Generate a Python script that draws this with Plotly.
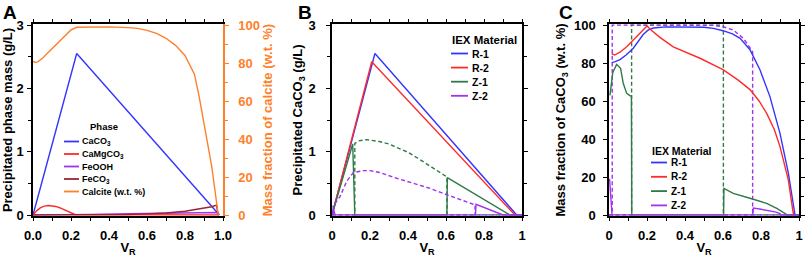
import plotly.graph_objects as go

# ---------------- data ----------------
# Panel A : precipitated phase mass (g/L) and calcite mass fraction (w.t. %)
A_caco3_x = [0, 0.23, 0.975, 0.98]
A_caco3_y = [0, 2.55, 0.02, 0]
A_camg_x = [0, 0.02, 0.04, 0.06, 0.08, 0.10, 0.12, 0.14, 0.16, 0.18, 0.20, 0.22, 0.3, 0.5, 0.7, 0.9, 0.97, 0.98]
A_camg_y = [0, 0.07, 0.115, 0.14, 0.15, 0.148, 0.135, 0.115, 0.088, 0.058, 0.03, 0.008, 0.004, 0.004, 0.005, 0.008, 0.01, 0]
A_feooh_x = [0, 0.2, 0.3, 0.5, 0.7, 0.9, 0.97, 0.98]
A_feooh_y = [0, 0, 0.01, 0.02, 0.03, 0.035, 0.04, 0]
A_feco3_x = [0, 0.4, 0.5, 0.6, 0.7, 0.8, 0.9, 0.94, 0.966, 0.974]
A_feco3_y = [0, 0.002, 0.008, 0.018, 0.032, 0.06, 0.105, 0.13, 0.155, 0]
A_calc_x = [0, 0.01, 0.025, 0.05, 0.08, 0.1, 0.13, 0.16, 0.2, 0.23, 0.3, 0.4, 0.5, 0.55, 0.6,
            0.65, 0.7, 0.75, 0.8, 0.85, 0.875, 0.9, 0.92, 0.94, 0.955, 0.965, 0.975]
A_calc_y = [80.8, 80.4, 80.6, 82.5, 85.5, 87.5, 90.5, 93.5, 97.4, 98.8, 99, 99, 98.6, 98.2, 97.2,
            95.6, 93, 89.3, 84, 74, 62, 48, 38, 26, 15, 7, 0]

# Panel B : precipitated CaCO3 (g/L)
B_r1_x = [0, 0.226, 0.972]
B_r1_y = [0, 2.55, 0]
B_r2_x = [0, 0.209, 0.963]
B_r2_y = [0, 2.42, 0]
B_z1_x = [0, 0.109, 0.12, 0.605, 0.607, 0.937, 1.0]
B_z1_y = [0, 1.12, 0, 0, 0.59, 0, 0]
B_z1d_x = [0, 0.12, 0.12, 0.14, 0.18, 0.25, 0.3, 0.35, 0.4, 0.45, 0.5, 0.55, 0.6, 0.605, 0.605, 1.0]
B_z1d_y = [0, 0, 1.13, 1.17, 1.19, 1.16, 1.12, 1.06, 0.99, 0.9, 0.8, 0.71, 0.61, 0.6, 0, 0]
B_z2_x = [0, 0.008, 0.016, 0.755, 0.758, 0.9, 1.0]
B_z2_y = [0, 0.09, 0, 0, 0.17, 0, 0]
B_z2d_x = [0, 0.006, 0.006, 0.02, 0.042, 0.077, 0.112, 0.165, 0.2, 0.253, 0.34, 0.428, 0.516,
           0.568, 0.647, 0.726, 0.753, 0.753, 1.0]
B_z2d_y = [0, 0, 0.16, 0.2, 0.29, 0.53, 0.67, 0.7, 0.7, 0.67, 0.58, 0.5, 0.42, 0.36, 0.27, 0.19, 0.16, 0, 0]

# Panel C : mass fraction of CaCO3 (w.t. %)
C_r1_x = [0.014, 0.03, 0.058, 0.09, 0.128, 0.155, 0.18, 0.205, 0.233, 0.3, 0.4, 0.5, 0.55, 0.6,
          0.65, 0.69, 0.742, 0.795, 0.847, 0.9, 0.944, 0.97, 0.979]
C_r1_y = [80.2, 80.6, 81.8, 84.2, 87.8, 91.5, 95, 97.3, 98.4, 99, 99, 98.8, 98.2, 97, 95.3, 93,
          87, 76.3, 62.3, 43, 22, 4.4, 0]
C_r2_x = [0.014, 0.03, 0.06, 0.093, 0.146, 0.18, 0.2, 0.22, 0.268, 0.338, 0.4, 0.479, 0.6, 0.68,
          0.742, 0.79, 0.83, 0.87, 0.9, 0.944, 0.967, 0.972]
C_r2_y = [85, 84.2, 85.8, 88.6, 93.9, 97.5, 99.5, 97.5, 93.5, 88.5, 86, 82.5, 76.5, 71, 66, 60,
          53.5, 45, 36, 18.4, 2.6, 0]
C_z1_x = [0.005, 0.02, 0.04, 0.061, 0.075, 0.093, 0.11, 0.118, 0.12, 0.603, 0.605, 0.654, 0.742,
          0.83, 0.883, 0.926, 0.94, 1.0]
C_z1_y = [63, 75, 79.3, 77.2, 69.3, 64, 62.8, 62.5, 0, 0, 14, 11.4, 8.8, 6.1, 3.5, 0.9, 0, 0]
C_z1d_x = [0, 0.119, 0.119, 0.602, 0.602, 1.0]
C_z1d_y = [0, 0, 100, 100, 0, 0]
C_z2_x = [0.003, 0.016, 0.756, 0.76, 0.8, 0.85, 0.88, 0.9, 0.905, 1.0]
C_z2_y = [19, 0, 0, 3.6, 3.0, 2.2, 1.5, 0.8, 0, 0]
C_z2d_x = [0, 0.017, 0.017, 0.5, 0.55, 0.6, 0.654, 0.707, 0.742, 0.756, 0.756, 1.0]
C_z2d_y = [0, 0, 100, 100, 99.8, 99.1, 97.4, 93, 87.7, 86, 0, 0]

# legend / tick labels
A_names = ["CaCO<sub>3</sub>", "CaMgCO<sub>3</sub>", "FeOOH", "FeCO<sub>3</sub>", "Calcite (w.t. %)"]
IEX_names = ["R-1", "R-2", "Z-1", "Z-2"]

# ---------------- style ----------------
BLUE = "#3535ff"
RED = "#ff2b2b"
GREEN = "#2e7b48"
PURPLE = "#a032f0"
ORANGE = "#ff7f2a"
BROWN = "#9c2430"
A_colors = [BLUE, RED, PURPLE, BROWN, ORANGE]
IEX_colors = [BLUE, RED, GREEN, PURPLE]
FONT = "Liberation Sans"
W, H = 809, 257
LW = 1.4
DASH = "4px,2.6px"

def fx(p):
    """window pixel -> paper fraction"""
    return p / W

def fy(p):
    return 1 - p / H

PAD = 0.8  # px of padding below 0 / above max
Y_TOP, Y_BOT = 25, 215
ydom = [fy(Y_BOT + PAD), fy(Y_TOP - PAD)]
gpad = PAD * 3 / (Y_BOT - Y_TOP)
ppad = PAD * 100 / (Y_BOT - Y_TOP)

fig = go.Figure()

def add(x, y, color, xa, ya, dash=None):
    fig.add_trace(go.Scatter(x=x, y=y, mode="lines", line=dict(color=color, width=LW, dash=dash),
                             xaxis=xa, yaxis=ya, showlegend=False, hoverinfo="skip"))

# Panel A
add(A_caco3_x, A_caco3_y, BLUE, "x", "y")
add(A_camg_x, A_camg_y, RED, "x", "y")
add(A_feooh_x, A_feooh_y, PURPLE, "x", "y")
add(A_feco3_x, A_feco3_y, BROWN, "x", "y")
add(A_calc_x, A_calc_y, ORANGE, "x", "y2")
# Panel B
add(B_r1_x, B_r1_y, BLUE, "x2", "y3")
add(B_r2_x, B_r2_y, RED, "x2", "y3")
add(B_z1d_x, B_z1d_y, GREEN, "x2", "y3", DASH)
add(B_z1_x, B_z1_y, GREEN, "x2", "y3")
add(B_z2d_x, B_z2d_y, PURPLE, "x2", "y3", DASH)
add(B_z2_x, B_z2_y, PURPLE, "x2", "y3")
# Panel C
add(C_z1d_x, C_z1d_y, GREEN, "x3", "y4", DASH)
add(C_z2d_x, C_z2d_y, PURPLE, "x3", "y4", DASH)
add(C_r1_x, C_r1_y, BLUE, "x3", "y4")
add(C_r2_x, C_r2_y, RED, "x3", "y4")
add(C_z1_x, C_z1_y, GREEN, "x3", "y4")
add(C_z2_x, C_z2_y, PURPLE, "x3", "y4")

tickfont = dict(family=FONT, size=13, color="black", weight="bold")
titlefont = dict(family=FONT, size=13, color="black")

def xaxis(x0, x1, anchor, fmt):
    return dict(domain=[fx(x0), fx(x1)], anchor=anchor, range=[0, 1], tick0=0, dtick=0.2,
                tickformat=fmt, ticks="outside", ticklen=3, tickwidth=1.2, tickcolor="black",
                minor=dict(dtick=0.1, ticks="outside", ticklen=3, tickwidth=1.2, tickcolor="black"),
                showline=True, linecolor="black", linewidth=1.5, mirror="ticks", automargin=False,
                showgrid=False, zeroline=False, tickfont=tickfont, ticklabelstandoff=4,
                title=dict(text="<b>V<sub>R</sub></b>", font=titlefont, standoff=2))

def yaxis(x_anchor, rng, dtick, mdtick, title, standoff, lab_standoff, mirror="ticks", color="black", **kw):
    d = dict(domain=ydom, anchor=x_anchor, range=rng, tick0=0, dtick=dtick,
             ticks="outside", ticklen=4, tickwidth=1.2, tickcolor=color,
             minor=dict(dtick=mdtick, ticks="outside", ticklen=3, tickwidth=1.2, tickcolor=color),
             showline=True, linecolor=color, linewidth=1.5, mirror=mirror, automargin=False,
             showgrid=False, zeroline=False,
             tickfont=dict(tickfont, color=color), ticklabelstandoff=lab_standoff,
             title=dict(text=title, font=dict(titlefont, color=color), standoff=standoff))
    d.update(kw)
    return d

layout = dict(
    width=W, height=H, margin=dict(l=0, r=0, t=0, b=0, autoexpand=False),
    paper_bgcolor="white", plot_bgcolor="rgba(0,0,0,0)", showlegend=False,
    xaxis=xaxis(33, 223, "y", ".1f"),
    xaxis2=xaxis(332, 522, "y3", None),
    xaxis3=xaxis(609, 799, "y4", None),
    yaxis=yaxis("x", [-gpad, 3 + gpad], 1, 0.5, "<b>Precipitated phase mass (g/L)</b>", 6, 1, mirror=False),
    yaxis2=yaxis("x", [-ppad, 100 + ppad], 20, 10, "<b>Mass fraction of calcite (w.t. %)</b>", 4, 7,
                 mirror=False, color=ORANGE, side="right", overlaying="y"),
    yaxis3=yaxis("x2", [-gpad, 3 + gpad], 1, 0.5, "<b>Precipitated CaCO<sub>3</sub> (g/L)</b>", 3, 8),
    yaxis4=yaxis("x3", [-ppad, 100 + ppad], 20, 10, "<b>Mass fraction of CaCO<sub>3</sub> (w.t. %)</b>", 5, 5),
)
fig.update_layout(**layout)

annotations = []
shapes = []

# panel letters
for letter, xc in [("A", 10), ("B", 305), ("C", 566)]:
    annotations.append(dict(text="<b>%s</b>" % letter, x=fx(xc), y=fy(12), xref="paper", yref="paper",
                            xanchor="center", yanchor="middle", showarrow=False,
                            font=dict(family=FONT, size=19, color="black")))

def legend(names, colors, lx0, lx1, tx, y0, dy, title, ttx, tty, tanchor, fs, tfs):
    annotations.append(dict(text="<b>%s</b>" % title, x=fx(ttx), y=fy(tty), xref="paper", yref="paper",
                            xanchor=tanchor, yanchor="middle", showarrow=False,
                            font=dict(family=FONT, size=tfs, color="black")))
    for i, (n, c) in enumerate(zip(names, colors)):
        yy = y0 + i * dy
        shapes.append(dict(type="line", xref="paper", yref="paper", x0=fx(lx0), x1=fx(lx1),
                           y0=fy(yy), y1=fy(yy), line=dict(color=c, width=1.8)))
        annotations.append(dict(text="<b>%s</b>" % n, x=fx(tx), y=fy(yy), xref="paper", yref="paper",
                                xanchor="left", yanchor="middle", showarrow=False,
                                font=dict(family=FONT, size=fs, color="black")))

legend(A_names, A_colors, 64, 79, 80, 141.5, 12.5, "Phase", 104, 126, "center", 9, 9.5)
legend(IEX_names, IEX_colors, 451, 468, 470, 53.5, 14.1, "IEX Material", 450, 40, "left", 10.5, 11.5)
legend(IEX_names, IEX_colors, 651, 667, 669, 162.5, 14.3, "IEX Material", 650, 150.5, "left", 10, 10.5)

fig.update_layout(annotations=annotations, shapes=shapes)
# the page body keeps its default 8px margin otherwise; the figure should sit at the window corner
fig.write_html("out.html", config={"displayModeBar": False},
               post_script="document.body.style.margin='0px';")
